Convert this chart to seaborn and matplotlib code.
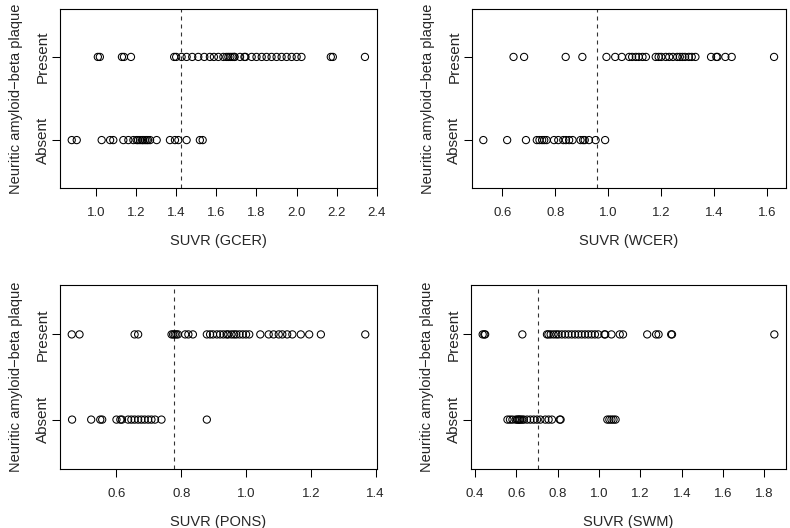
import matplotlib
matplotlib.use("Agg")
import matplotlib.pyplot as plt
import seaborn as sns
import pandas as pd

sns.set_theme(style="white")
plt.rcParams["font.family"] = ["Liberation Sans", "DejaVu Sans"]

groups = ["Absent", "Present"]
ylabel = "Neuritic amyloid\u2212beta plaque"

gcer_present = [1.01, 1.02, 1.13, 1.14, 1.175, 1.39, 1.40, 1.427, 1.452, 1.48, 1.51, 1.54,
                1.568, 1.588, 1.61, 1.635, 1.65, 1.66, 1.67, 1.68, 1.69, 1.69, 1.718,
                1.74, 1.745, 1.776, 1.80, 1.826, 1.85, 1.875, 1.90, 1.925, 1.95, 1.975,
                2.00, 2.024, 2.17, 2.18, 2.34]
gcer_absent = [0.88, 0.905, 1.029, 1.071, 1.087, 1.137, 1.162, 1.187, 1.203, 1.21, 1.22,
               1.23, 1.236, 1.245, 1.253, 1.26, 1.27, 1.303, 1.369, 1.394, 1.411, 1.452,
               1.518, 1.532]
wcer_present = [0.642, 0.682, 0.839, 0.902, 0.993, 1.026, 1.051, 1.079, 1.09, 1.104, 1.115,
                1.129, 1.142, 1.179, 1.19, 1.20, 1.217, 1.23, 1.244, 1.26, 1.27, 1.28,
                1.29, 1.304, 1.315, 1.329, 1.388, 1.408, 1.412, 1.442, 1.466, 1.626]
wcer_absent = [0.528, 0.618, 0.689, 0.73, 0.74, 0.75, 0.758, 0.767, 0.795, 0.811, 0.83,
               0.84, 0.852, 0.865, 0.895, 0.905, 0.911, 0.927, 0.952, 0.988]
pons_present = [0.462, 0.486, 0.656, 0.667, 0.77, 0.775, 0.78, 0.785, 0.79, 0.812, 0.822,
                0.836, 0.879, 0.889, 0.898, 0.91, 0.92, 0.93, 0.94, 0.945, 0.955, 0.963,
                0.97, 0.98, 0.99, 1.00, 1.01, 1.044, 1.07, 1.085, 1.101, 1.112, 1.127,
                1.143, 1.169, 1.195, 1.231, 1.368]
pons_absent = [0.463, 0.522, 0.55, 0.556, 0.60, 0.612, 0.617, 0.636, 0.646, 0.656, 0.667,
               0.677, 0.687, 0.698, 0.708, 0.719, 0.739, 0.879]
swm_present = [0.437, 0.445, 0.449, 0.629, 0.748, 0.755, 0.766, 0.78, 0.793, 0.804, 0.82,
               0.836, 0.852, 0.868, 0.884, 0.9, 0.916, 0.932, 0.948, 0.964, 0.98, 0.996,
               1.026, 1.030, 1.06, 1.10, 1.116, 1.233, 1.276, 1.288, 1.349, 1.353, 1.848]
swm_absent = [0.557, 0.569, 0.581, 0.597, 0.605, 0.61, 0.615, 0.62, 0.628, 0.636, 0.652,
              0.668, 0.684, 0.70, 0.716, 0.74, 0.756, 0.772, 0.81, 0.814, 1.04, 1.05,
              1.06, 1.07, 1.08]

region_labels = ["SUVR (GCER)", "SUVR (WCER)", "SUVR (PONS)", "SUVR (SWM)"]
cutoffs = [1.4225, 0.958, 0.778, 0.705]
x_ticks = [[1.0, 1.2, 1.4, 1.6, 1.8, 2.0, 2.2, 2.4],
           [0.6, 0.8, 1.0, 1.2, 1.4, 1.6],
           [0.6, 0.8, 1.0, 1.2, 1.4],
           [0.4, 0.6, 0.8, 1.0, 1.2, 1.4, 1.6, 1.8]]

series = [(gcer_absent, gcer_present), (wcer_absent, wcer_present),
          (pons_absent, pons_present), (swm_absent, swm_present)]

W, H = 790, 528
fig = plt.figure(figsize=(W / 100, H / 100), dpi=100)
fig.patch.set_facecolor("white")

# panel boxes in pixels: left, right, top, bottom
boxes = [(60, 377, 8.7, 188.3), (471.7, 785.7, 8.7, 188.3),
         (60, 377, 285, 469), (471, 786, 285, 469)]

for i, ((absent, present), box) in enumerate(zip(series, boxes)):
    l, r, t, b = box
    ax = fig.add_axes([l / W, 1 - b / H, (r - l) / W, (b - t) / H])
    df = pd.DataFrame({
        "suvr": list(absent) + list(present),
        "grp": [1] * len(absent) + [2] * len(present),
    })
    sns.scatterplot(data=df, x="suvr", y="grp", ax=ax, marker="o", s=27,
                    legend=False, zorder=3)
    pts = ax.collections[-1]
    pts.set_facecolor("none")
    pts.set_edgecolor("black")
    pts.set_linewidth(0.75)
    allv = df["suvr"]
    lo, hi = allv.min(), allv.max()
    pad = 0.04 * (hi - lo)
    ax.set_xlim(lo - pad, hi + pad)
    ax.set_ylim(0.42, 2.58)
    ax.axvline(cutoffs[i], color="#333333", lw=0.8, linestyle=(0, (3.6, 3.6)), zorder=2)
    ax.set_xticks(x_ticks[i])
    ax.set_xticklabels([f"{v:.1f}" for v in x_ticks[i]], fontsize=9.5)
    ax.set_yticks([1, 2])
    ax.set_yticklabels(groups, fontsize=11, rotation=90, va="center")
    ax.tick_params(axis="x", direction="out", length=5.5, width=0.75,
                   color="black", bottom=True, pad=8)
    ax.tick_params(axis="y", direction="out", length=5.5, width=0.75,
                   color="black", left=True, pad=2)
    ax.set_xlabel(region_labels[i], fontsize=10.5, labelpad=11)
    ax.set_ylabel(ylabel, fontsize=10.5, labelpad=9)
    for sp in ax.spines.values():
        sp.set_visible(True)
        sp.set_color("black")
        sp.set_linewidth(0.8)
    ax.grid(False)

fig.savefig("out.png", dpi=100, facecolor="white")
